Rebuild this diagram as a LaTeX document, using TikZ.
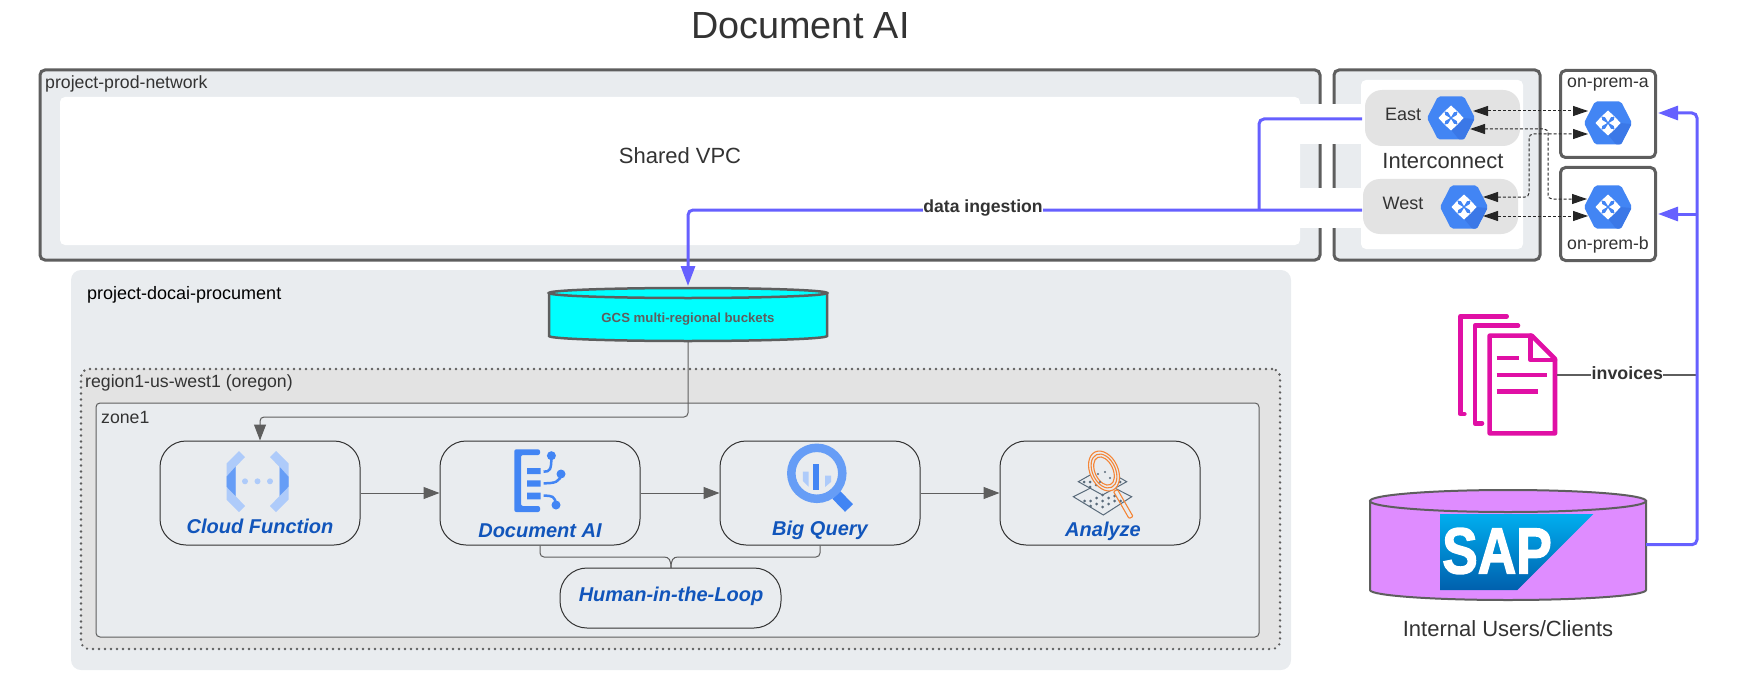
\documentclass[tikz,border=0pt]{standalone}
\usepackage{fontspec}
\setmainfont{Liberation Sans}
\usetikzlibrary{arrows.meta,calc}
\definecolor{panel}{HTML}{E9ECEF}
\definecolor{pill}{HTML}{E3E3E3}
\definecolor{edge}{HTML}{5E5E5E}
\definecolor{ink}{HTML}{333333}
\definecolor{flow}{HTML}{6660FF}
\definecolor{gblue}{HTML}{4285F4}
\definecolor{gdark}{HTML}{3B78E7}
\definecolor{gmid}{HTML}{669DF6}
\definecolor{glight}{HTML}{AECBFA}
\definecolor{blabel}{HTML}{1155BB}
\definecolor{magenta2}{HTML}{E010A5}
\definecolor{sapfill}{HTML}{DF8CFF}
\definecolor{saptop}{HTML}{00AEEF}
\definecolor{sapbot}{HTML}{0060AD}
\definecolor{aqua}{HTML}{00FFFF}
\definecolor{orng}{HTML}{F58536}
\definecolor{slate}{HTML}{5A6B7B}
\newcommand\fs[1]{\fontsize{#1}{#1}\selectfont}
\newfontfamily\sapfont[FakeBold=2.2]{Liberation Sans Bold}
\tikzset{
  bigbox/.style={draw=edge,line width=3pt,rounded corners=5pt,inner sep=0pt},
  softbox/.style={rounded corners=5pt,inner sep=0pt},
  stage/.style={draw=black!80,line width=1pt,fill=panel,rounded corners=26pt,inner sep=0pt,minimum width=200pt,minimum height=104pt},
  txt/.style={inner sep=0pt,text=ink,font=\fs{#1}},
  txt/.default=17,
  blabeltxt/.style={inner sep=0pt,text=blabel,font=\fs{20}\bfseries\itshape},
  conn/.style={draw=edge,line width=1pt,-{Triangle[length=16pt,width=12pt]}},
  plain/.style={draw=edge,line width=1pt,rounded corners=4pt},
  bflow/.style={draw=flow,line width=3pt,rounded corners=5pt},
  barrow/.style={bflow,-{Triangle[length=20pt,width=14pt]}},
  pairdash/.style={draw=black!85,line width=1pt,dashed,dash pattern=on 3pt off 2pt,rounded corners=4pt,{Triangle[length=15pt,width=10pt,fill=black!85]}-{Triangle[length=15pt,width=10pt,fill=black!85]}},
  routerhex/.pic={
    \fill[gblue,rounded corners=2pt] (-24,0)--(-13,-21.5)--(13,-21.5)--(24,0)--(13,21.5)--(-13,21.5)--cycle;
    \fill[gdark,rounded corners=1pt] (11.7,0)--(23.5,1)--(13,21.5)--(8,21.5)--(0,11.7)--cycle;
    \fill[white] (0,-12.5)--(6.5,-6.5)--(3,-6)--(0,-1)--(-3,-6)--(-6.5,-6.5)--cycle
                 (0,12.5)--(6.5,6.5)--(3,6)--(0,1)--(-3,6)--(-6.5,6.5)--cycle
                 (-12.5,0)--(-6.5,-6.5)--(-6,-3)--(-1,0)--(-6,3)--(-6.5,6.5)--cycle
                 (12.5,0)--(6.5,-6.5)--(6,-3)--(1,0)--(6,3)--(6.5,6.5)--cycle;
  },
  dotsgrid/.pic={
    \foreach \a/\b in {-12/0,-6/-3,-6/3,0/-6,0/0,0/6,6/-3,6/3,12/0,-18/0,18/0,-12/5,12/-5}
      \fill[slate] (\a,\b) circle (1.5);
  }
}
\begin{document}
\begin{tikzpicture}[x=1pt,y=-1pt]
\useasboundingbox (0,0) rectangle (1760,687);
% title
\node[txt=37.8] (title) at (800.5,26) {Document AI};
% network project
\node[bigbox,fill=panel,minimum width=1280pt,minimum height=190pt] (prod) at (680,165) {};
\node[softbox,fill=white,minimum width=1240pt,minimum height=148pt] (vpc) at (680,171) {};
\node[txt=17.7,anchor=west] (prodlab) at (45,84) {project-prod-network};
\node[txt=22] (vpclab) at (680,156) {Shared VPC};
% interconnect panel
\node[bigbox,fill=panel,minimum width=206pt,minimum height=190pt] (inter) at (1437,165) {};
\node[softbox,fill=white,minimum width=162pt,minimum height=169pt] (interw) at (1442,164.5) {};
\fill[white] (1300,104) rectangle (1362,144);
\fill[white] (1300,188) rectangle (1362,228);
\node[fill=pill,rounded corners=17pt,inner sep=0pt,minimum width=155pt,minimum height=56pt] (eastp) at (1442.5,118) {};
\node[fill=pill,rounded corners=17pt,inner sep=0pt,minimum width=155pt,minimum height=55pt] (westp) at (1440.5,206.5) {};
\node[txt=18] (eastl) at (1403,114) {East};
\node[txt=18] (westl) at (1403,203) {West};
\node[txt=22] (icl) at (1443,161) {Interconnect};
% on-prem
\node[bigbox,fill=white,minimum width=95pt,minimum height=87pt] (opa) at (1608,114) {};
\node[bigbox,fill=white,minimum width=95pt,minimum height=93pt] (opb) at (1608,214) {};
\node[txt=17.7] (opal) at (1608,85) {on-prem-a};
\node[txt=17.7] (opbl) at (1608,245) {on-prem-b};
% hexes
\pic at (1451,118) {routerhex};
\pic at (1464,207) {routerhex};
\pic at (1608,123) {routerhex};
\pic at (1608,207) {routerhex};
\coordinate (e1) at (1473,111); \coordinate (a1) at (1588,111);
\coordinate (e2) at (1470,129); \coordinate (b1) at (1587,199);
\coordinate (w1) at (1483,197); \coordinate (a2) at (1588,134);
\coordinate (w2) at (1483,216); \coordinate (b2) at (1588,216);
\draw[pairdash] (e1) -- (a1);
\draw[pairdash] (e2) -- (1548,129) -- (1548,199) -- (b1);
\draw[pairdash] (w1) -- (1529,197) -- (1529,134) -- (a2);
\draw[pairdash] (w2) -- (b2);
% docai project
\node[softbox,rounded corners=10pt,fill=panel,minimum width=1220pt,minimum height=400pt] (docai) at (681,470) {};
\node[txt=18,text=black,anchor=west] (docail) at (87,295) {project-docai-procument};
% region
\node[draw=edge,line width=2.6pt,line cap=round,dash pattern=on 0pt off 6pt,fill=pill,rounded corners=8pt,inner sep=0pt,minimum width=1199pt,minimum height=280pt] (region) at (680.5,509) {};
\node[txt=17.7,anchor=west] (regionl) at (85,383) {region1-us-west1 (oregon)};
\node[draw=edge,line width=1pt,fill=panel,rounded corners=4pt,inner sep=0pt,minimum width=1163pt,minimum height=234pt] (zone) at (677.5,520) {};
\node[txt=17.7,anchor=west] (zonel) at (101,417) {zone1};
% GCS
\path[fill=aqua,draw=edge,line width=2.5pt] (549,293) -- (549,336) arc[start angle=180,end angle=0,x radius=139,y radius=5] -- (827,293) -- cycle;
\draw[fill=aqua,draw=edge,line width=2.5pt] (688,293) ellipse[x radius=139,y radius=5];
\node[inner sep=0pt,text=edge,font=\fs{13.2}\bfseries] (gcs) at (688,319) {GCS multi-regional buckets};
\coordinate (gcsb) at (688,341);
% stages
\node[stage] (cf) at (260,493) {};
\node[stage] (doc) at (540,493) {};
\node[stage] (bq) at (820,493) {};
\node[stage] (an) at (1100,493) {};
\node[stage,rounded corners=27pt,minimum width=221pt,minimum height=60pt] (hitl) at (670.5,598) {};
\node[blabeltxt] (cfl) at (260,526) {Cloud Function};
\node[blabeltxt] (docl) at (540,531) {Document AI};
\node[blabeltxt] (bql) at (820,530) {Big Query};
\node[blabeltxt] (anl) at (1103,531) {Analyze};
\node[blabeltxt] (hitll) at (671,596) {Human-in-the-Loop};
% connectors
\draw[conn] (cf.east) -- (doc.west);
\draw[conn] (doc.east) -- (bq.west);
\draw[conn] (bq.east) -- (an.west);
\draw[conn,rounded corners=4pt] (gcsb) -- (688,417) -- (260,417) -- (cf.north);
\draw[plain] (doc.south) -- (540,557) -- (664,557);
\draw[plain] (bq.south) -- (820,557) -- (678,557);
\draw[edge,line width=1pt] (664,557) .. controls (669,557) and (671,560) .. (671,568);
\draw[edge,line width=1pt] (678,557) .. controls (673,557) and (671,560) .. (671,568);
% cloud function icon
\foreach \s in {1,-1}{
 \begin{scope}[shift={(257.5,0)},xscale=\s]
  \fill[glight] (-18.5,451) -- (-12.5,457) -- (-22,467) -- (-22,496) -- (-12.5,506) -- (-18.5,512) -- (-31,499.5) -- (-31,463.5) -- cycle;
  \fill[gmid] (-22,466.7) -- (-31,476.7) -- (-31,486.7) -- (-22,496) -- cycle;
 \end{scope}}
\foreach \a in {245,257.5,270} \fill[glight] (\a,481.3) circle (3);
% document ai icon
\fill[gblue,rounded corners=2pt] (540,449.3) -- (514.3,449.3) -- (514.3,512) -- (540,512) -- (540,506) -- (521,506) -- (521,455) -- (540,455) -- cycle;
\fill[gblue] (527,468) rectangle (540.5,474) (527,480.3) rectangle (540.5,486.7) (527,492.7) rectangle (540.5,499.3);
\fill[gblue] (551.4,455.7) circle (4.5) (561,474) circle (4.5) (556,505) circle (4.5);
\draw[gblue,line width=2.5pt] (543.6,471.7) .. controls (550,471.7) and (551.4,470) .. (551.4,456);
\draw[gblue,line width=2.5pt] (543.6,483.3) .. controls (555,483.3) and (560,482) .. (561,474);
\draw[gblue,line width=2.5pt] (543.6,495.7) .. controls (552,495.7) and (555,495.7) .. (556,505);
% big query icon
\draw[gblue,line width=11pt] (836.4,495) -- (849,508);
\draw[gmid,line width=8.5pt] (816.8,473.3) circle (25.5);
\fill[gblue] (812.9,464) rectangle (819.3,490);
\fill[glight] (802.9,471.7) -- (808.6,471.7) -- (808.6,486.7) -- (802.9,481) -- cycle;
\fill[glight] (825,475.7) -- (831,475.7) -- (831,482) -- (825,487) -- cycle;
% analyze icon
\draw[slate,line width=1pt,fill=panel] (1073.3,496.7) -- (1102.5,482) -- (1131.7,496.7) -- (1103.3,515) -- cycle;
\draw[slate,line width=1pt,fill=panel] (1078.3,481.7) -- (1102.5,468) -- (1126.7,481.7) -- (1102.5,495) -- cycle;
\pic at (1102.5,501) {dotsgrid};
\pic at (1102,482) {dotsgrid};
\begin{scope}[orng,line width=1.1pt]
 \draw[fill=panel,rotate around={25:(1104,471)}] (1104,471) ellipse[x radius=14,y radius=21];
 \draw[rotate around={25:(1104,471)}] (1104,471) ellipse[x radius=11.5,y radius=18];
 \draw[rotate around={25:(1104,471)}] (1104,471) ellipse[x radius=9,y radius=15];
 \draw[rounded corners=1pt] (1113.5,491.5) -- (1117.5,489.5) -- (1133,516.5) -- (1129,518.5) -- cycle;
\end{scope}
\foreach \a/\b in {1098/474,1105/472,1110/478,1100/482} \fill[slate] (\a,\b) circle (1.2);
% invoices
\coordinate (inv) at (1557.3,375);
\coordinate (invr) at (1697,375);
\begin{scope}[draw=magenta2,line width=4.6pt,line cap=round,line join=round]
 \draw (1340+500/3,290+79/3) -- (1340+361/3,290+79/3) -- (1340+361/3,290+372/3) -- (1340+373/3,290+372/3);
 \draw (1340+534/3,290+107/3) -- (1340+405/3,290+107/3) -- (1340+405/3,290+400/3) -- (1340+426/3,290+400/3);
 \draw (1340+575/3,290+137/3) -- (1340+449/3,290+137/3) -- (1340+449/3,290+430/3) -- (1340+645/3,290+430/3) -- (1340+645/3,290+207/3) -- cycle;
 \draw (1340+572/3,290+137/3) -- (1340+572/3,290+210/3) -- (1340+645/3,290+210/3);
 \draw[line cap=butt] (1340+470/3,290+204/3) -- (1340+536/3,290+204/3);
 \draw[line cap=butt] (1340+470/3,290+255/3) -- (1340+622/3,290+255/3);
 \draw[line cap=butt] (1340+470/3,290+305/3) -- (1340+594/3,290+305/3);
\end{scope}
\draw[edge,line width=1.5pt] (inv) -- (invr);
\node[fill=white,inner sep=0.5pt,text=ink,font=\fs{17.8}\bfseries] (invl) at (1627.3,373) {invoices};
% SAP cylinder
\path[fill=sapfill,draw=edge,line width=2pt] (1370,501) -- (1370,590) arc[start angle=180,end angle=0,x radius=138,y radius=10] -- (1646,501) -- cycle;
\draw[fill=sapfill,draw=edge,line width=2pt] (1508,501) ellipse[x radius=138,y radius=11];
\shade[top color=saptop,bottom color=sapbot] (1440,514) -- (1593.3,514) -- (1517.3,590) -- (1440,590) -- cycle;
\node[inner sep=0pt,text=white,font=\sapfont\fs{65},xscale=.82] (sap) at (1497,551) {SAP};
\node[txt=22] (iuc) at (1508,629) {Internal Users/Clients};
\coordinate (sapr) at (1646,544.7);
\coordinate (trunk) at (1697,214);
% blue flows
\draw[bflow] (sapr) -- (1697,544.7) -- (trunk);
\draw[barrow] (trunk) -- (1658,214);
\draw[barrow] (trunk) -- (1697,113) -- (1658,113);
\coordinate (eastb) at (1362,119);
\coordinate (westb) at (1362,210);
\coordinate (gcst) at (688,286);
\draw[bflow] (eastb) -- (1259,119) -- (1259,210);
\draw[barrow] (westb) -- (688,210) -- (gcst);
\node[inner sep=0.5pt,fill=white,text=ink,font=\fs{17.6}\bfseries] (ing) at (983,208) {data ingestion};
\end{tikzpicture}
\end{document}
